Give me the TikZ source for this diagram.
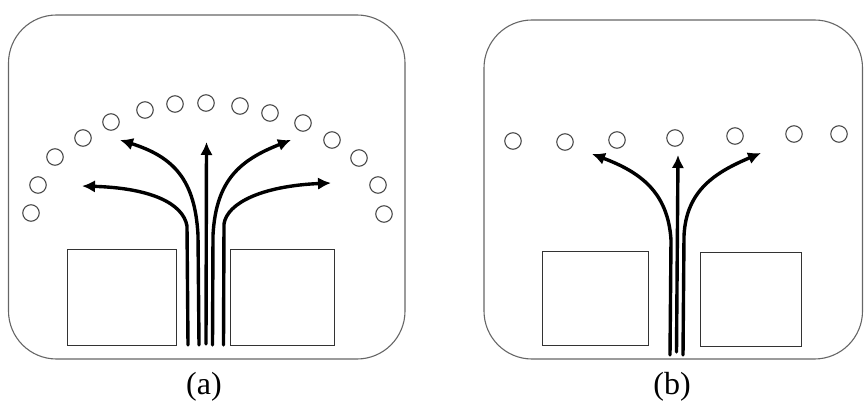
\documentclass[tikz,border=0pt]{standalone}
\usepackage{fontspec}
\setmainfont{Liberation Serif}
\usetikzlibrary{arrows.meta}

\tikzset{
  frame/.style={draw=black!60, line width=1.1pt, rounded corners=48pt},
  hole/.style={circle, draw=black!70, line width=1.1pt, minimum size=16.5pt, inner sep=0pt},
  block/.style={draw=black!80, line width=0.9pt, inner sep=0pt},
  flow/.style={line width=3.4pt, line cap=round, -{Latex[length=13pt,width=12.5pt]}},
  caption/.style={font=\fontsize{32}{34}\selectfont}
}

\begin{document}
\begin{tikzpicture}[x=1pt, y=-1pt]
  \useasboundingbox (0,0) rectangle (864,403);

  % ---------- panel (a) ----------
  \draw[frame] (8.5,15) rectangle (405,359);

  \foreach \i/\x/\y in {1/31/213, 2/38/185, 3/55/157, 4/83/138, 5/111/122,
      6/145/110, 7/175/104, 8/206/103, 9/240/106, 10/270/113, 11/303/123,
      12/332/140, 13/359/158, 14/378/185, 15/384/214}
    \node[hole] (ha\i) at (\x,\y) {};

  \node[block, minimum width=109pt, minimum height=96pt] (la) at (122.2,297.2) {};
  \node[block, minimum width=104pt, minimum height=96pt] (ra) at (282,297.2) {};

  \coordinate (sa1) at (188,345);
  \coordinate (sa2) at (199,345);
  \coordinate (sa3) at (206,344);
  \coordinate (sa4) at (212.5,345);
  \coordinate (sa5) at (223.5,345);
  \coordinate (ta1) at (82,186);
  \coordinate (ta2) at (120,140);
  \coordinate (ta3) at (206.5,142);
  \coordinate (ta4) at (291,140);
  \coordinate (ta5) at (331,183);

  \draw[flow] (sa1) -- (187,226) .. controls (183,203) and (150,188) .. (ta1);
  \draw[flow] (sa2) -- (198,235) .. controls (195,180) and (174,157) .. (ta2);
  \draw[flow] (sa3) -- (ta3);
  \draw[flow] (sa4) -- (213,235) .. controls (216,180) and (240,160) .. (ta4);
  \draw[flow] (sa5) -- (224,224) .. controls (227,203) and (262,186) .. (ta5);

  \node[caption] (capa) at (204,387) {(a)};

  % ---------- panel (b) ----------
  \draw[frame] (484,20) rectangle (862.5,359);

  \foreach \i/\x/\y in {1/513/141, 2/565/142, 3/617/140, 4/675/138,
      5/735/136, 6/794/134, 7/839/134}
    \node[hole] (hb\i) at (\x,\y) {};

  \node[block, minimum width=106pt, minimum height=94pt] (lb) at (595,298) {};
  \node[block, minimum width=101pt, minimum height=94pt] (rb) at (750.8,299.2) {};

  \coordinate (sb1) at (670,355);
  \coordinate (sb2) at (676.5,352);
  \coordinate (sb3) at (683,355);
  \coordinate (tb1) at (592,154);
  \coordinate (tb2) at (678,155);
  \coordinate (tb3) at (761,153);

  \draw[flow] (sb1) -- (671,240) .. controls (668,192) and (640,172) .. (tb1);
  \draw[flow] (sb2) -- (tb2);
  \draw[flow] (sb3) -- (684,236) .. controls (686,190) and (716,172) .. (tb3);

  \node[caption] (capb) at (672,387) {(b)};
\end{tikzpicture}
\end{document}
